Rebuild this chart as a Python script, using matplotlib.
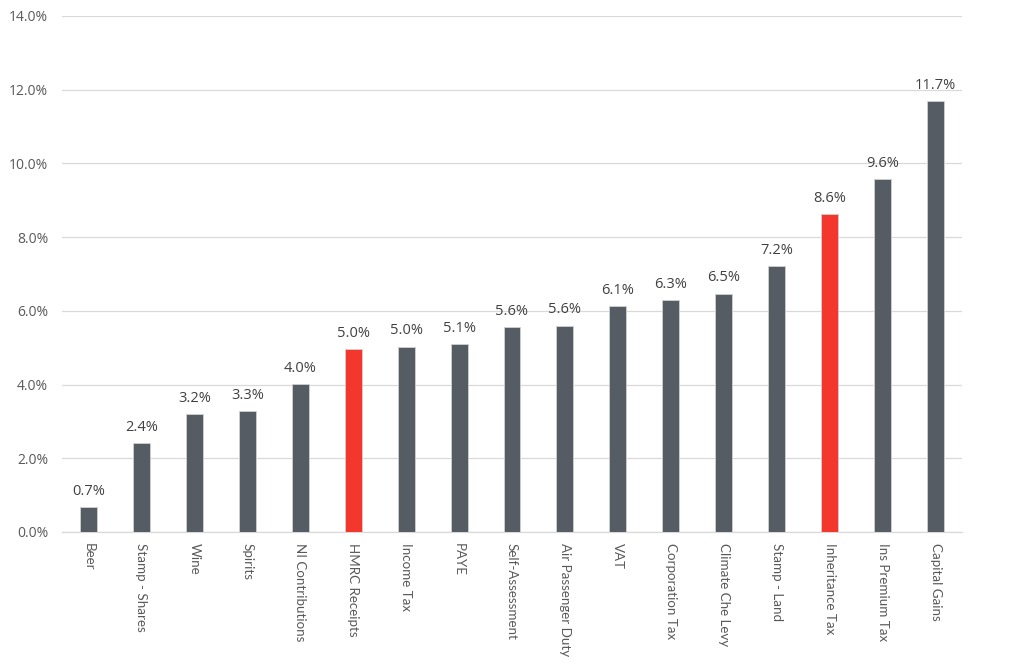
import matplotlib
matplotlib.use("Agg")
import matplotlib.pyplot as plt
from matplotlib.ticker import FuncFormatter

plt.rcParams['font.family'] = ['Open Sans', 'DejaVu Sans']

categories = ['Beer', 'Stamp - Shares', 'Wine', 'Spirits', 'NI Contributions',
              'HMRC Receipts', 'Income Tax', 'PAYE', 'Self-Assessment',
              'Air Passenger Duty', 'VAT', 'Corporation Tax', 'Climate Che Levy',
              'Stamp - Land', 'Inheritance Tax', 'Ins Premium Tax', 'Capital Gains']
values = [0.68, 2.42, 3.21, 3.28, 4.02, 4.97, 5.03, 5.11, 5.57,
          5.60, 6.14, 6.29, 6.47, 7.22, 8.63, 9.57, 11.68]
highlight = ['HMRC Receipts', 'Inheritance Tax']

grey = '#555c63'
red = '#f4372d'
colors = [red if c in highlight else grey for c in categories]

fig = plt.figure(figsize=(10.24, 6.69), dpi=100)
ax = fig.add_axes([0.0605, 0.2048, 0.879, 0.7713])

x = range(len(categories))
bars = ax.bar(x, values, width=0.32, color=colors, edgecolor='#d0d0d0', linewidth=0.6, zorder=3)

for b, v in zip(bars, values):
    ax.text(b.get_x() + b.get_width() / 2, v + 0.22, f'{v:.1f}%', ha='center', va='bottom',
            fontsize=10.5, color='#404040')

ax.set_xlim(-0.5, len(categories) - 0.5)
ax.set_ylim(0, 14)
ax.set_yticks([0, 2, 4, 6, 8, 10, 12, 14])
ax.yaxis.set_major_formatter(FuncFormatter(lambda v, p: f'{v:.1f}%'))
ax.grid(axis='y', color='#d9d9d9', linewidth=0.9, zorder=0)
ax.set_xticks(list(x))
ax.set_xticklabels(categories, rotation=-90, ha='center', va='top',
                   family=['Lato', 'DejaVu Sans'], fontsize=9.6)
ax.tick_params(axis='y', length=0, labelsize=10, colors='#595959', pad=10)
ax.tick_params(axis='x', length=0, colors='#595959', pad=8)

for s in ['top', 'right', 'left']:
    ax.spines[s].set_visible(False)
ax.spines['bottom'].set_color('#d9d9d9')
ax.spines['bottom'].set_linewidth(0.9)

fig.savefig('out.png', dpi=100)
